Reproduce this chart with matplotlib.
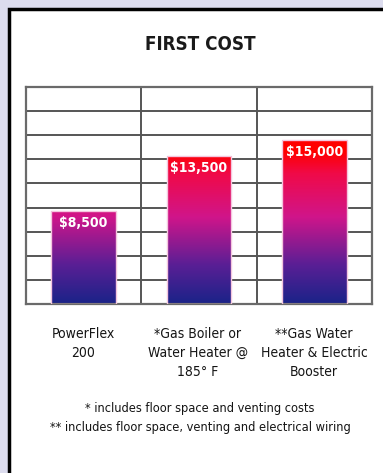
import numpy as np
import matplotlib
matplotlib.use('Agg')
import matplotlib.pyplot as plt
from matplotlib.colors import LinearSegmentedColormap
from matplotlib.patches import Rectangle

categories = ['PowerFlex\n200', '*Gas Boiler or\nWater Heater @\n185° F', '**Gas Water\nHeater & Electric\nBooster']
costs = [8500, 13500, 15000]
cost_labels = ['$8,500', '$13,500', '$15,000']
footnotes = ['* includes floor space and venting costs',
             '** includes floor space, venting and electrical wiring']

FONT = ['Liberation Sans Narrow', 'DejaVu Sans']
W, H = 383, 473

fig = plt.figure(figsize=(W / 100, H / 100), dpi=100, facecolor='#dcdcee')

# white panel with black frame
fig.patches.append(Rectangle((9 / W, -0.05), 1.1, 1 - 9 / H + 0.05, transform=fig.transFigure,
                             facecolor='white', edgecolor='black', linewidth=2.5, zorder=-5))

ax = fig.add_axes([26 / W, (H - 304) / H, (372 - 26) / W, (304 - 87) / H])
ax.set_facecolor('white')
ymax = 19800
ax.set_xlim(-0.5, 2.5)
ax.set_ylim(0, ymax)

# grid
ax.set_yticks(np.arange(0, ymax + 1, 2200))
ax.set_xticks([0.5, 1.5])
ax.grid(True, color='#555555', linewidth=1.4)
ax.set_axisbelow(True)
ax.tick_params(length=0, labelbottom=False, labelleft=False)
for s in ax.spines.values():
    s.set_color('#6a6a6a')
    s.set_linewidth(1.6)

# gradient bars
cmap = LinearSegmentedColormap.from_list('cost', [
    (0.0, '#1a2388'), (0.18, '#5a1f95'), (0.40, '#d0158a'),
    (0.60, '#f00a48'), (0.70, '#ff0000'), (1.0, '#ff0000')])
grad = np.linspace(0, 1, 256).reshape(-1, 1)

bars = ax.bar(range(len(costs)), costs, width=0.56, color='none',
              edgecolor='#f4c6de', linewidth=1.0, zorder=3)
for b in bars:
    im = ax.imshow(grad, cmap=cmap, origin='lower', aspect='auto',
                   extent=[-0.5, 2.5, 0, ymax], zorder=2)
    im.set_clip_path(b)
ax.set_xlim(-0.5, 2.5)
ax.set_ylim(0, ymax)

for i, (v, lab) in enumerate(zip(costs, cost_labels)):
    ax.text(i, v - 450, lab, ha='center', va='top', color='white',
            fontsize=10, fontweight='bold', family=FONT, fontstretch='condensed', zorder=4)

fig.text(200 / W, 1 - 44 / H, 'FIRST COST', ha='center', va='center',
         fontsize=13.5, fontweight='bold', family=FONT, fontstretch='condensed', color='#1a1a1a')

col_x = [83, 198, 314]
for x, c in zip(col_x, categories):
    fig.text(x / W, 1 - 327 / H, c, ha='center', va='top', fontsize=10,
             family=FONT, fontstretch='condensed', color='#151515', linespacing=1.45)

fig.text(200 / W, 1 - 408 / H, footnotes[0], ha='center', va='center',
         fontsize=9.2, family=FONT, fontstretch='condensed', color='#151515')
fig.text(200 / W, 1 - 427 / H, footnotes[1], ha='center', va='center',
         fontsize=9.2, family=FONT, fontstretch='condensed', color='#151515')

fig.savefig('out.png', dpi=100, facecolor=fig.get_facecolor())
